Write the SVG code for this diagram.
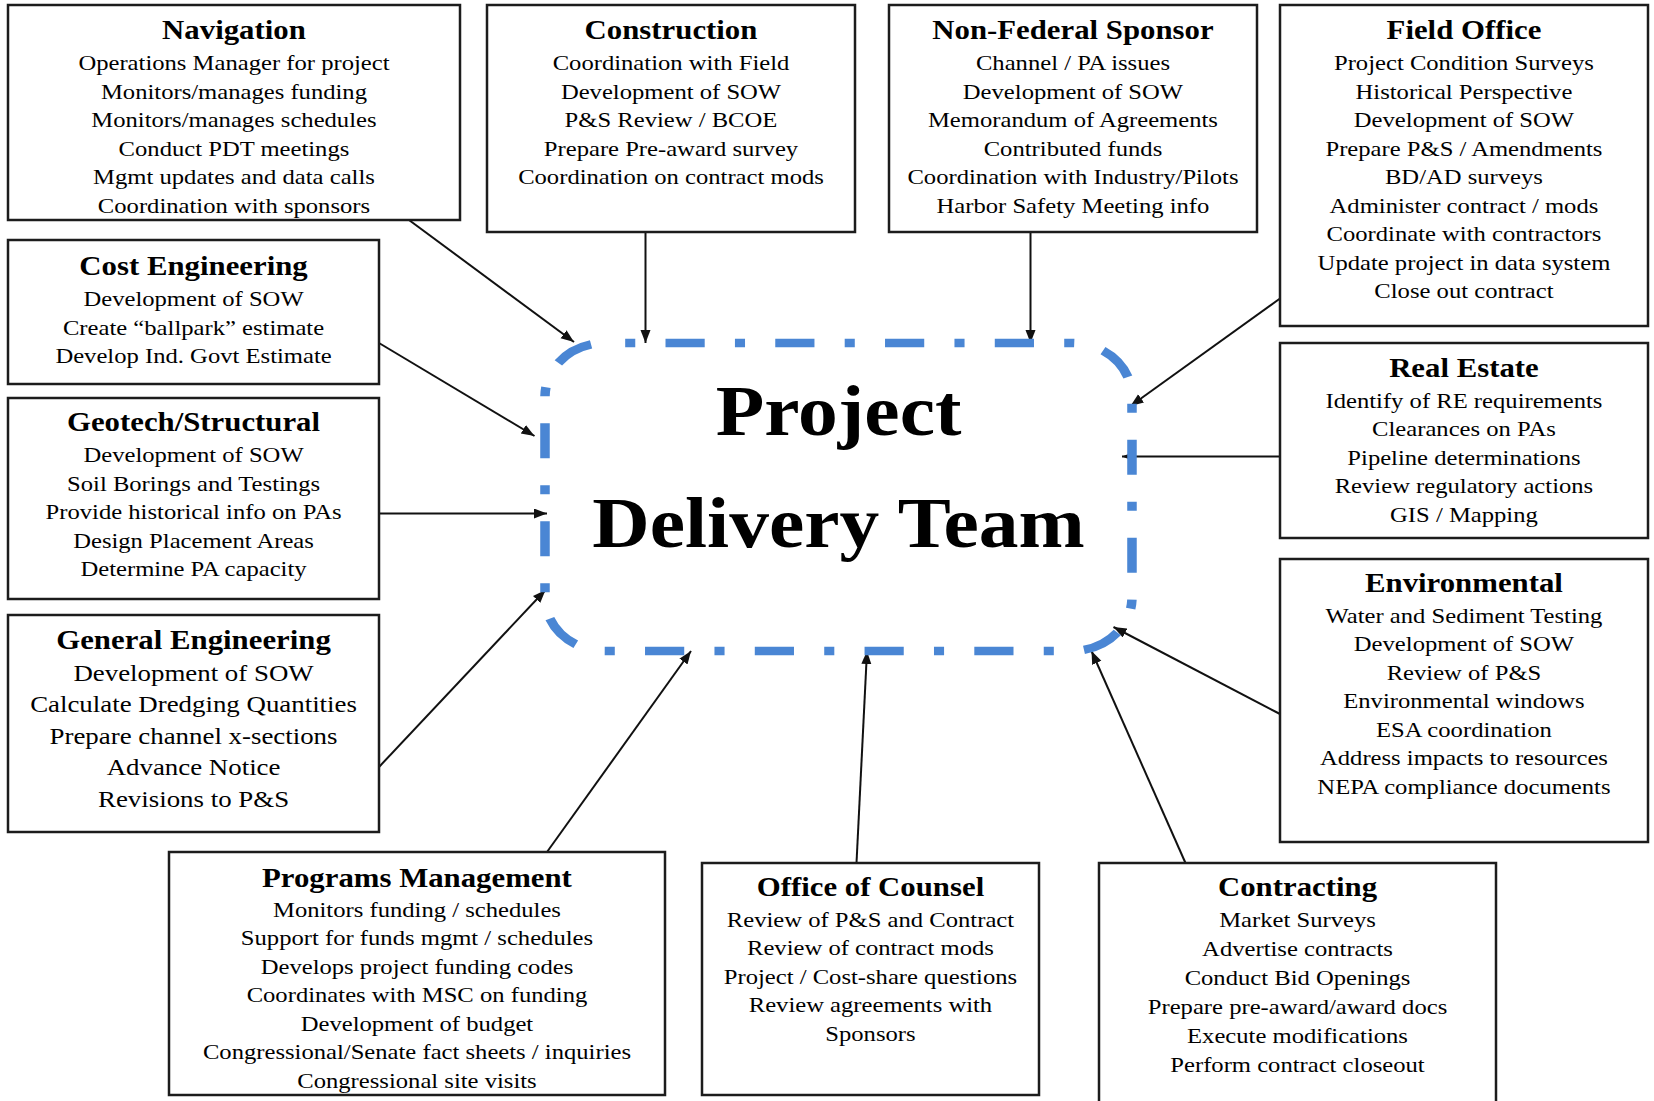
<svg xmlns="http://www.w3.org/2000/svg" width="1654" height="1101" viewBox="0 0 1654 1101">
<defs>
<style>
.box{fill:#fff;stroke:#1c1c1c;stroke-width:2.5}
.t{font-family:"Liberation Serif","Times New Roman",serif;font-weight:bold;font-size:27.5px;text-anchor:middle;fill:#000}
.b{font-family:"Liberation Serif","Times New Roman",serif;font-size:22px;text-anchor:middle;fill:#000}
.bl{font-family:"Liberation Serif","Times New Roman",serif;font-size:24px;text-anchor:middle;fill:#000}
.big{font-family:"Liberation Serif","Times New Roman",serif;font-weight:bold;font-size:71px;text-anchor:middle;fill:#000}
.conn line{stroke:#111;stroke-width:2;marker-end:url(#ah)}
</style>
<marker id="ah" markerUnits="userSpaceOnUse" markerWidth="14" markerHeight="11" refX="13" refY="5" orient="auto">
<path d="M0,0 L13,5 L0,10 z" fill="#111"/>
</marker>
</defs>
<rect width="1654" height="1101" fill="#fff"/>

<g id="connectors" class="conn">
<line x1="409" y1="220" x2="574" y2="342"/>
<line x1="645.5" y1="232" x2="645.5" y2="343"/>
<line x1="1030.5" y1="232" x2="1030.5" y2="343"/>
<line x1="1280" y1="298.5" x2="1130.5" y2="406"/>
<line x1="379" y1="343" x2="534.5" y2="436"/>
<line x1="379" y1="513.5" x2="547" y2="513.5"/>
<line x1="379" y1="767" x2="545.5" y2="590"/>
<line x1="547" y1="852" x2="691" y2="651"/>
<line x1="856.5" y1="863" x2="867" y2="651"/>
<line x1="1185.5" y1="863" x2="1091.5" y2="651"/>
<line x1="1280" y1="714" x2="1113.5" y2="627"/>
<line x1="1280" y1="456.5" x2="1122" y2="456.5"/>
</g>

<g id="pdt">
<g transform="scale(1.12 1)">
<rect x="486.6" y="343" width="524.1" height="308" rx="53.6" ry="53.6" fill="none" stroke="#4A86D4" stroke-width="8.5" stroke-dasharray="9 27 35 27" stroke-dashoffset="80"/>
<text class="big" x="748.7" y="435">Project</text>
<text class="big" x="748.7" y="547">Delivery Team</text>
</g>
</g>

<g id="navigation">
<rect class="box" x="8" y="5" width="452" height="215"/>
<g transform="scale(1.12 1)">
<text class="t" x="208.9" y="39.5">Navigation</text>
<text class="b" x="208.9" y="70.5">Operations Manager for project</text>
<text class="b" x="208.9" y="99">Monitors/manages funding</text>
<text class="b" x="208.9" y="127.5">Monitors/manages schedules</text>
<text class="b" x="208.9" y="156">Conduct PDT meetings</text>
<text class="b" x="208.9" y="184.5">Mgmt updates and data calls</text>
<text class="b" x="208.9" y="213">Coordination with sponsors</text>
</g>
</g>

<g id="construction">
<rect class="box" x="487" y="5" width="368" height="227"/>
<g transform="scale(1.12 1)">
<text class="t" x="599.1" y="39.5">Construction</text>
<text class="b" x="599.1" y="70.5">Coordination with Field</text>
<text class="b" x="599.1" y="99">Development of SOW</text>
<text class="b" x="599.1" y="127.5">P&amp;S Review / BCOE</text>
<text class="b" x="599.1" y="156">Prepare Pre-award survey</text>
<text class="b" x="599.1" y="184.5">Coordination on contract mods</text>
</g>
</g>

<g id="non-federal-sponsor">
<rect class="box" x="889" y="5" width="368" height="227"/>
<g transform="scale(1.12 1)">
<text class="t" x="958" y="39.5">Non-Federal Sponsor</text>
<text class="b" x="958" y="70.5">Channel / PA issues</text>
<text class="b" x="958" y="99">Development of SOW</text>
<text class="b" x="958" y="127.5">Memorandum of Agreements</text>
<text class="b" x="958" y="156">Contributed funds</text>
<text class="b" x="958" y="184.5">Coordination with Industry/Pilots</text>
<text class="b" x="958" y="213">Harbor Safety Meeting info</text>
</g>
</g>

<g id="field-office">
<rect class="box" x="1280" y="5" width="368" height="321"/>
<g transform="scale(1.12 1)">
<text class="t" x="1307.1" y="39.5">Field Office</text>
<text class="b" x="1307.1" y="70.5">Project Condition Surveys</text>
<text class="b" x="1307.1" y="99">Historical Perspective</text>
<text class="b" x="1307.1" y="127.5">Development of SOW</text>
<text class="b" x="1307.1" y="156">Prepare P&amp;S / Amendments</text>
<text class="b" x="1307.1" y="184.5">BD/AD surveys</text>
<text class="b" x="1307.1" y="213">Administer contract / mods</text>
<text class="b" x="1307.1" y="241.5">Coordinate with contractors</text>
<text class="b" x="1307.1" y="270">Update project in data system</text>
<text class="b" x="1307.1" y="298.5">Close out contract</text>
</g>
</g>

<g id="cost-engineering">
<rect class="box" x="8" y="240" width="371" height="144"/>
<g transform="scale(1.12 1)">
<text class="t" x="172.8" y="275.5">Cost Engineering</text>
<text class="b" x="172.8" y="306.5">Development of SOW</text>
<text class="b" x="172.8" y="335">Create “ballpark” estimate</text>
<text class="b" x="172.8" y="363.5">Develop Ind. Govt Estimate</text>
</g>
</g>

<g id="geotech-structural">
<rect class="box" x="8" y="398" width="371" height="201"/>
<g transform="scale(1.12 1)">
<text class="t" x="172.8" y="431.5">Geotech/Structural</text>
<text class="b" x="172.8" y="462.5">Development of SOW</text>
<text class="b" x="172.8" y="491">Soil Borings and Testings</text>
<text class="b" x="172.8" y="519.5">Provide historical info on PAs</text>
<text class="b" x="172.8" y="548">Design Placement Areas</text>
<text class="b" x="172.8" y="576.5">Determine PA capacity</text>
</g>
</g>

<g id="general-engineering">
<rect class="box" x="8" y="615" width="371" height="217"/>
<g transform="scale(1.12 1)">
<text class="t" x="172.8" y="649">General Engineering</text>
<text class="bl" x="172.8" y="681">Development of SOW</text>
<text class="bl" x="172.8" y="712.5">Calculate Dredging Quantities</text>
<text class="bl" x="172.8" y="744">Prepare channel x-sections</text>
<text class="bl" x="172.8" y="775.5">Advance Notice</text>
<text class="bl" x="172.8" y="807">Revisions to P&amp;S</text>
</g>
</g>

<g id="real-estate">
<rect class="box" x="1280" y="343" width="368" height="195"/>
<g transform="scale(1.12 1)">
<text class="t" x="1307.1" y="377">Real Estate</text>
<text class="b" x="1307.1" y="408">Identify of RE requirements</text>
<text class="b" x="1307.1" y="436.5">Clearances on PAs</text>
<text class="b" x="1307.1" y="465">Pipeline determinations</text>
<text class="b" x="1307.1" y="493.5">Review regulatory actions</text>
<text class="b" x="1307.1" y="522">GIS / Mapping</text>
</g>
</g>

<g id="environmental">
<rect class="box" x="1280" y="559" width="368" height="283"/>
<g transform="scale(1.12 1)">
<text class="t" x="1307.1" y="592">Environmental</text>
<text class="b" x="1307.1" y="623">Water and Sediment Testing</text>
<text class="b" x="1307.1" y="651.5">Development of SOW</text>
<text class="b" x="1307.1" y="680">Review of P&amp;S</text>
<text class="b" x="1307.1" y="708.5">Environmental windows</text>
<text class="b" x="1307.1" y="737">ESA coordination</text>
<text class="b" x="1307.1" y="765.5">Address impacts to resources</text>
<text class="b" x="1307.1" y="794">NEPA compliance documents</text>
</g>
</g>

<g id="programs-management">
<rect class="box" x="169" y="852" width="496" height="243"/>
<g transform="scale(1.12 1)">
<text class="t" x="372.3" y="887">Programs Management</text>
<text class="b" x="372.3" y="917">Monitors funding / schedules</text>
<text class="b" x="372.3" y="945.5">Support for funds mgmt / schedules</text>
<text class="b" x="372.3" y="974">Develops project funding codes</text>
<text class="b" x="372.3" y="1002.5">Coordinates with MSC on funding</text>
<text class="b" x="372.3" y="1031">Development of budget</text>
<text class="b" x="372.3" y="1059.5">Congressional/Senate fact sheets / inquiries</text>
<text class="b" x="372.3" y="1088">Congressional site visits</text>
</g>
</g>

<g id="office-of-counsel">
<rect class="box" x="702" y="863" width="337" height="232"/>
<g transform="scale(1.12 1)">
<text class="t" x="777.2" y="896">Office of Counsel</text>
<text class="b" x="777.2" y="927">Review of P&amp;S and Contract</text>
<text class="b" x="777.2" y="955.5">Review of contract mods</text>
<text class="b" x="777.2" y="984">Project / Cost-share questions</text>
<text class="b" x="777.2" y="1012.5">Review agreements with</text>
<text class="b" x="777.2" y="1041">Sponsors</text>
</g>
</g>

<g id="contracting">
<rect class="box" x="1099" y="863" width="397" height="260"/>
<g transform="scale(1.12 1)">
<text class="t" x="1158.5" y="896">Contracting</text>
<text class="b" x="1158.5" y="927">Market Surveys</text>
<text class="b" x="1158.5" y="956">Advertise contracts</text>
<text class="b" x="1158.5" y="985">Conduct Bid Openings</text>
<text class="b" x="1158.5" y="1014">Prepare pre-award/award docs</text>
<text class="b" x="1158.5" y="1043">Execute modifications</text>
<text class="b" x="1158.5" y="1072">Perform contract closeout</text>
</g>
</g>
</svg>
